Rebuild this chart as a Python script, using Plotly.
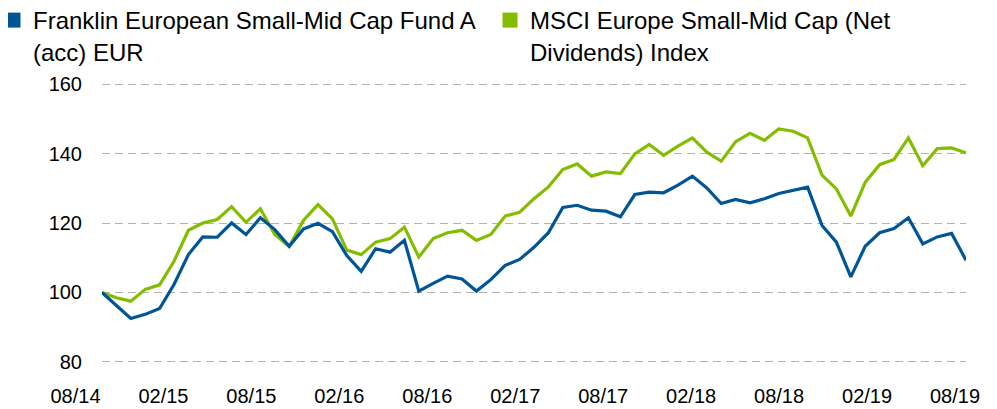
import plotly.graph_objects as go

# ---- data (monthly, indexed to 100) ----
months = list(range(61))  # 08/2014 .. 08/2019
tick_labels = ["08/14", "02/15", "08/15", "02/16", "08/16", "02/17",
               "08/17", "02/18", "08/18", "02/19", "08/19"]
fund_name = "Franklin European Small-Mid Cap Fund A<br>(acc) EUR"
index_name = "MSCI Europe Small-Mid Cap (Net<br>Dividends) Index"

fund = [100.0, 96.3, 92.5, 93.7, 95.4, 102.3, 110.9, 116.0, 115.9, 120.0,
        116.7, 121.5, 118.1, 113.3, 118.3, 119.9, 117.5, 110.6, 106.1, 112.6,
        111.6, 115.0, 100.4, 102.6, 104.7, 103.9, 100.4, 103.7, 107.8, 109.5,
        113.0, 117.2, 124.5, 125.1, 123.7, 123.4, 121.8, 128.2, 128.9, 128.7,
        130.9, 133.5, 130.1, 125.6, 126.8, 125.8, 127.0, 128.5, 129.4, 130.3,
        119.3, 114.5, 104.5, 113.3, 117.2, 118.4, 121.5, 114.0, 116.0, 117.0,
        109.3]
bench = [100.0, 98.5, 97.5, 100.9, 102.2, 109.0, 117.9, 120.0, 121.0, 124.7,
         120.2, 124.1, 116.7, 113.2, 120.8, 125.3, 121.2, 112.2, 110.9, 114.5,
         115.5, 118.8, 110.2, 115.5, 117.2, 117.9, 115.0, 116.7, 122.0, 123.1,
         127.0, 130.4, 135.4, 137.0, 133.5, 134.7, 134.2, 139.9, 142.6, 139.5,
         142.1, 144.5, 140.4, 137.8, 143.4, 145.8, 143.8, 147.1, 146.4, 144.5,
         133.8, 129.8, 122.0, 131.7, 136.8, 138.3, 144.5, 136.5, 141.4, 141.6,
         140.2]
y_ticks = [80, 100, 120, 140, 160]

BLUE = "#005596"
GREEN = "#84BD00"
FONT = "Liberation Sans, Arial, sans-serif"

# the page body adds an 8px offset, so the figure is 8px smaller
OFF = 8
W, H = 997 - OFF, 409 - OFF
ML, MR, MT, MB = 2, 2, 75, 46
plot_w = W - ML - MR
plot_h = H - MT - MB
x_lo_px, x_hi_px = 102 - OFF, 966 - OFF
lab0_px, lab_step = 75.5 - OFF, 87.95

fig = go.Figure()
fig.add_trace(go.Scatter(x=months, y=bench, mode="lines",
                         line=dict(color=GREEN, width=3.2),
                         showlegend=False, hoverinfo="skip"))
fig.add_trace(go.Scatter(x=months, y=fund, mode="lines",
                         line=dict(color=BLUE, width=3.2),
                         showlegend=False, hoverinfo="skip"))
# legend swatches
fig.add_trace(go.Scatter(x=[None], y=[None], mode="markers", name=fund_name,
                         legendwidth=467,
                         marker=dict(symbol="square", size=15, color=BLUE)))
fig.add_trace(go.Scatter(x=[None], y=[None], mode="markers", name=index_name,
                         legendwidth=380,
                         marker=dict(symbol="square", size=15, color=GREEN)))
# carrier for the date-label axis
fig.add_trace(go.Scatter(x=[0, len(tick_labels) - 1], y=[0, 0], mode="markers",
                         marker=dict(opacity=0), xaxis="x2", yaxis="y2",
                         showlegend=False, hoverinfo="skip"))

x2_lo = (ML - lab0_px) / lab_step
x2_hi = (W - MR - lab0_px) / lab_step

fig.update_layout(
    width=W, height=H,
    margin=dict(l=ML, r=MR, t=MT, b=MB, pad=0, autoexpand=False),
    paper_bgcolor="white", plot_bgcolor="rgba(0,0,0,0)",
    font=dict(family=FONT, size=20, color="#000000"),
    xaxis=dict(domain=[(x_lo_px - ML) / plot_w, (x_hi_px - ML) / plot_w],
               range=[0, 60], showgrid=False, zeroline=False,
               showticklabels=False, showline=False, ticks=""),
    yaxis=dict(range=[79.7, 160.3], tickvals=y_ticks, showgrid=True,
               gridcolor="#b3b3b3", gridwidth=1, griddash="8px,5px",
               zeroline=False, showline=False, ticks="",
               ticklabelstandoff=19,
               tickfont=dict(size=20, color="#000000")),
    xaxis2=dict(domain=[0, 1], anchor="y2", range=[x2_lo, x2_hi],
                tickvals=list(range(len(tick_labels))), ticktext=tick_labels,
                showgrid=False, zeroline=False, showline=False, ticks="",
                ticklabelstandoff=19,
                tickfont=dict(size=20, color="#000000")),
    yaxis2=dict(domain=[0, 1], anchor="x2", range=[0, 1], visible=False),
    legend=dict(orientation="h", x=-ML / plot_w, xanchor="left",
                y=1 + (MT + 10) / plot_h, yanchor="top", valign="top",
                indentation=-15,
                font=dict(size=24, color="#000000", family=FONT),
                bgcolor="rgba(0,0,0,0)", borderwidth=0,
                itemclick=False, itemdoubleclick=False),
)

fig.write_html("out.html")
